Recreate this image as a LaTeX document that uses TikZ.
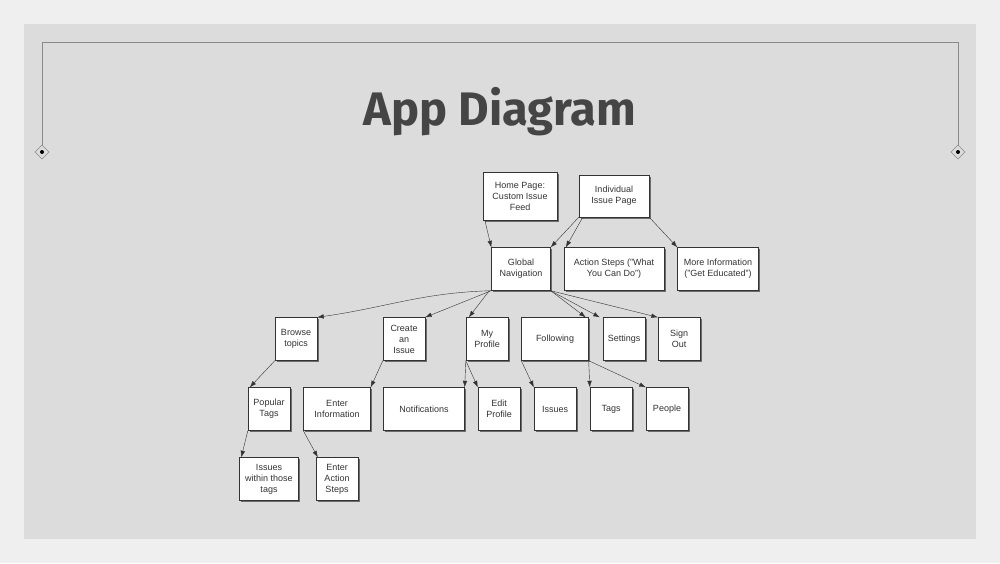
\documentclass[tikz,border=0pt]{standalone}
\usepackage{fontspec}
\setmainfont{Liberation Sans}
\newfontfamily\titlefont{Fira Sans}
\usetikzlibrary{arrows.meta, positioning, calc, shadows}
\definecolor{PageBg}{HTML}{EFEFEF}
\definecolor{PanelBg}{HTML}{DCDCDC}
\definecolor{FrameGray}{HTML}{8A8A8A}
\definecolor{InkGray}{HTML}{333333}
\definecolor{TitleGray}{HTML}{454545}
\tikzset{
  appbox/.style={draw=InkGray, thin, fill=white, align=center, text=InkGray,
    minimum width=42pt, minimum height=43pt, inner sep=2pt,
    font=\fontsize{9}{11}\selectfont,
    drop shadow={shadow xshift=1.5pt, shadow yshift=-1.5pt, opacity=0.5, fill=black}},
  link/.style={-{Latex[length=6.5pt, width=4.5pt]}, draw=InkGray, thin},
  ornament/.style={draw=FrameGray, fill=PanelBg, thin},
}
\begin{document}
\begin{tikzpicture}[x=1pt, y=-1pt]
    % page and panel
    \fill[PageBg] (0,0) rectangle (1000,563);
    \fill[PanelBg] (24,24) rectangle (976,539);
    \useasboundingbox (0,0) rectangle (1000,563);
    % frame with diamonds
    \draw[FrameGray, line width=0.8pt] (42,145) -- (42,42) -- (958,42) -- (958,145);
    \foreach \xx in {42,958} {
      \draw[ornament] (\xx,145) -- (\xx+7,152) -- (\xx,159) -- (\xx-7,152) -- cycle;
      \fill[black] (\xx,152) circle (2);
    }
    \node[font=\titlefont\bfseries\fontsize{47}{50}\selectfont, text=TitleGray] (title) at (500,112) {App Diagram};

    % top row
    \node[appbox, minimum width=74pt, minimum height=48pt] (home) at (520,196) {Home Page:\\Custom Issue\\Feed};
    \node[appbox, minimum width=70pt, minimum height=42pt] (indiv) at (614,196) {Individual\\Issue Page};
    % second row
    \node[appbox, minimum width=59pt] (glob) at (521,269) {Global\\Navigation};
    \node[appbox, minimum width=100pt] (action) at (614,269) {Action Steps ("What\\You Can Do")};
    \node[appbox, minimum width=81pt] (more) at (718,269) {More Information\\("Get Educated")};
    % third row
    \node[appbox] (browse) at (296,339) {Browse\\topics};
    \node[appbox] (create) at (404,339) {Create\\an\\Issue};
    \node[appbox] (myprof) at (487,339) {My\\Profile};
    \node[appbox, minimum width=67pt] (follow) at (555,339) {Following};
    \node[appbox] (settings) at (624,339) {Settings};
    \node[appbox] (signout) at (679,339) {Sign\\Out};
    % fourth row
    \node[appbox] (poptags) at (269,409) {Popular\\Tags};
    \node[appbox, minimum width=67pt] (enterinfo) at (337,409) {Enter\\Information};
    \node[appbox, minimum width=81pt] (notif) at (424,409) {Notifications};
    \node[appbox] (editprof) at (499,409) {Edit\\Profile};
    \node[appbox] (issues) at (555,409) {Issues};
    \node[appbox] (tags) at (611,409) {Tags};
    \node[appbox] (people) at (667,409) {People};
    % fifth row
    \node[appbox, minimum width=59pt] (within) at (269,479) {Issues\\within those\\tags};
    \node[appbox] (actsteps) at (337,479) {Enter\\Action\\Steps};

    % connectors
    \draw[link] ($(home.south west)+(2,0)$) -- (glob.north west);
    \draw[link] (indiv.south west) -- (glob.north east);
    \draw[link] ($(indiv.south west)+(4,0)$) -- ($(action.north west)+(2,0)$);
    \draw[link] (indiv.south east) -- (more.north west);
    \draw[link] (glob.south west) .. controls ($(glob.south west)+(-70,2)$) and ($(browse.north east)+(70,-10)$) .. (browse.north east);
    \draw[link] (glob.south west) -- (create.north east);
    \draw[link] ($(glob.south west)+(-2,0)$) -- ($(myprof.north west)+(3,0)$);
    \draw[link] (glob.south east) -- ($(follow.north east)+(-3,0)$);
    \draw[link] (glob.south east) -- ($(settings.north west)+(-3,0)$);
    \draw[link] (glob.south east) -- (signout.north west);
    \draw[link] (browse.south west) -- ($(poptags.north west)+(2,0)$);
    \draw[link] (create.south west) -- (enterinfo.north east);
    \draw[link] (myprof.south west) -- (notif.north east);
    \draw[link] (myprof.south west) -- (editprof.north west);
    \draw[link] (follow.south west) -- (issues.north west);
    \draw[link] (follow.south east) -- (tags.north west);
    \draw[link] (follow.south east) -- (people.north west);
    \draw[link] (poptags.south west) -- ($(within.north west)+(2,0)$);
    \draw[link] (enterinfo.south west) -- ($(actsteps.north west)+(2,0)$);
  \end{tikzpicture}
\end{document}
